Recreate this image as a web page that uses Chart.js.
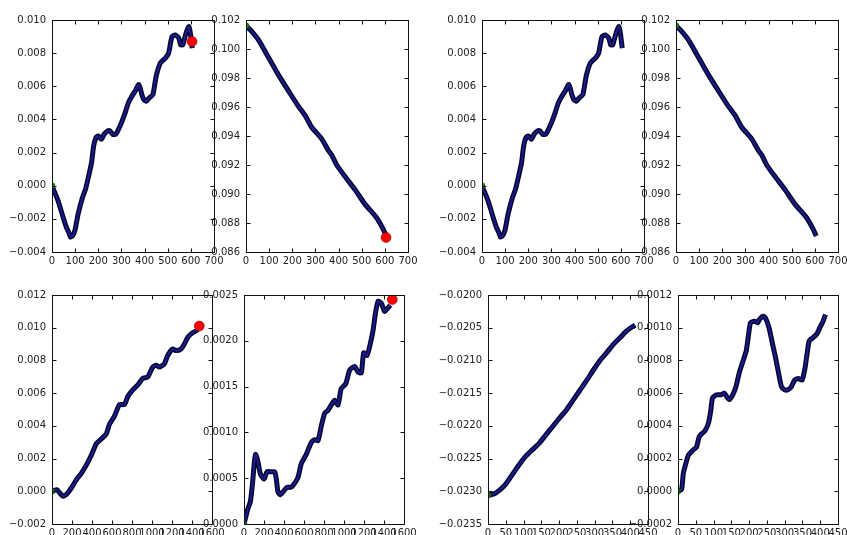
<!DOCTYPE html>
<html>
<head>
<meta charset="utf-8">
<script src="https://cdn.jsdelivr.net/npm/chart.js@4.4.1/dist/chart.umd.min.js"></script>
<style>
  body { margin: 0; background: #fff; }
  #wrap { position: relative; width: 847px; height: 535px; overflow: hidden; }
  #wrap canvas { position: absolute; }
</style>
</head>
<body>
<div id="wrap"></div>
<script>
// run A: wandering error (top row, columns 1 and 3)
const runAx = [0, 26, 48, 62, 72, 80, 90, 99, 113, 132, 145, 157, 171, 180, 190, 200, 214, 225, 240, 251, 262, 275,
  294, 316, 330, 345, 359, 374, 381, 388, 397, 408, 420, 436, 450, 468, 490, 504, 512, 519, 533, 548, 556, 565,
  575, 584, 592, 598, 606];
const runAy = [0.0000, -0.0009, -0.0019, -0.0025, -0.0028, -0.0031, -0.0030, -0.0027, -0.0017, -0.0007, -0.0002,
  0.0005, 0.0014, 0.0024, 0.0029, 0.0030, 0.0028, 0.0031, 0.0033, 0.0033, 0.0031, 0.0031, 0.0036, 0.0044, 0.0050,
  0.0054, 0.0057, 0.0061, 0.0059, 0.0055, 0.0052, 0.0051, 0.0053, 0.0055, 0.0066, 0.0074, 0.0077, 0.0080, 0.0086,
  0.0090, 0.0091, 0.0089, 0.0085, 0.0085, 0.0090, 0.0094, 0.0096, 0.0092, 0.0083];
const runAEnd = [605, 0.0087];

// run A: steady decay (top row, columns 2 and 4)
const dropAx = [0, 20, 55, 98, 141, 184, 220, 256, 284, 327, 356, 370, 392, 428, 471, 514, 563, 592, 606];
const dropAy = [0.1016, 0.1013, 0.1006, 0.0994, 0.0982, 0.0971, 0.0962, 0.0954, 0.0946, 0.0938, 0.0930, 0.0927,
  0.0920, 0.0912, 0.0903, 0.0893, 0.0884, 0.0876, 0.0871];
const dropAEnd = [605, 0.0870];

// run B (bottom row, columns 1 and 2)
const runBx = [0, 50, 77, 110, 143, 193, 243, 293, 343, 393, 442, 492, 542, 575, 625, 675, 725, 758, 808, 858,
  908, 958, 1008, 1041, 1074, 1124, 1157, 1207, 1241, 1291, 1324, 1357, 1407, 1440, 1457];
const runBy = [0.0000, 0.0001, -0.0001, -0.0003, -0.0002, 0.0002, 0.0007, 0.0011, 0.0016, 0.0022, 0.0029, 0.0032,
  0.0035, 0.0041, 0.0046, 0.0053, 0.0053, 0.0058, 0.0062, 0.0065, 0.0069, 0.0070, 0.0076, 0.0077, 0.0076, 0.0078,
  0.0083, 0.0087, 0.0086, 0.0087, 0.0090, 0.0094, 0.0097, 0.0098, 0.0099];
const runBEnd = [1473, 0.0101];

const riseBx = [0, 40, 63, 83, 107, 117, 140, 163, 200, 230, 273, 307, 323, 340, 363, 397, 430, 463, 490, 540,
  573, 623, 673, 707, 740, 773, 807, 840, 873, 907, 940, 973, 1017, 1057, 1107, 1140, 1173, 1197, 1230, 1257, 1290,
  1313, 1340, 1373, 1407, 1440, 1463];
const riseBy = [0.00000, 0.00017, 0.00024, 0.00042, 0.00071, 0.00076, 0.00068, 0.00055, 0.00049, 0.00057, 0.00057,
  0.00057, 0.00049, 0.00035, 0.00032, 0.00036, 0.00040, 0.00040, 0.00042, 0.00051, 0.00066, 0.00076, 0.00089,
  0.00092, 0.00091, 0.00107, 0.00121, 0.00124, 0.00130, 0.00135, 0.00130, 0.00148, 0.00153, 0.00168, 0.00172,
  0.00166, 0.00165, 0.00187, 0.00184, 0.00194, 0.00211, 0.00229, 0.00243, 0.00241, 0.00232, 0.00236, 0.00239];
const riseBEnd = [1483, 0.00245];

// run C (bottom row, columns 3 and 4)
const slopeCx = [0, 17, 31, 50, 69, 88, 107, 126, 145, 164, 182, 201, 220, 239, 258, 277, 296, 315, 334, 353,
  372, 390, 405, 414];
const slopeCy = [-0.02306, -0.02304, -0.02299, -0.02289, -0.02274, -0.02259, -0.02246, -0.02236, -0.02226,
  -0.02213, -0.02201, -0.02188, -0.02176, -0.02161, -0.02146, -0.02131, -0.02115, -0.02100, -0.02088, -0.02075,
  -0.02065, -0.02055, -0.02049, -0.02046];

const waveCx = [0, 10, 15, 22, 29, 41, 52, 59, 66, 76, 86, 92, 97, 108, 121, 130, 137, 144, 154, 163, 173, 182,
  192, 198, 204, 215, 224, 229, 239, 246, 256, 265, 275, 284, 291, 300, 309, 319, 328, 338, 349, 357, 363, 369,
  380, 390, 399, 408, 415];
const waveCy = [0.00000, 0.00001, 0.00011, 0.00017, 0.00022, 0.00025, 0.00027, 0.00033, 0.00035, 0.00037, 0.00042,
  0.00049, 0.00057, 0.00059, 0.00059, 0.00060, 0.00058, 0.00056, 0.00059, 0.00064, 0.00073, 0.00079, 0.00086,
  0.00095, 0.00103, 0.00104, 0.00103, 0.00105, 0.00107, 0.00106, 0.00100, 0.00091, 0.00081, 0.00071, 0.00064,
  0.00062, 0.00062, 0.00064, 0.00068, 0.00069, 0.00068, 0.00075, 0.00084, 0.00092, 0.00094, 0.00096, 0.00100,
  0.00104, 0.00108];

// tick values
const xTicks700 = [0, 100, 200, 300, 400, 500, 600, 700];
const xTicks1600 = [0, 200, 400, 600, 800, 1000, 1200, 1400, 1600];
const xTicks450 = [0, 50, 100, 150, 200, 250, 300, 350, 400, 450];
const yTicksRunA = [-0.004, -0.002, 0, 0.002, 0.004, 0.006, 0.008, 0.010];
const yTicksDropA = [0.086, 0.088, 0.090, 0.092, 0.094, 0.096, 0.098, 0.100, 0.102];
const yTicksRunB = [-0.002, 0, 0.002, 0.004, 0.006, 0.008, 0.010, 0.012];
const yTicksRiseB = [0, 0.0005, 0.0010, 0.0015, 0.0020, 0.0025];
const yTicksSlopeC = [-0.0235, -0.0230, -0.0225, -0.0220, -0.0215, -0.0210, -0.0205, -0.0200];
const yTicksWaveC = [-0.0002, 0, 0.0002, 0.0004, 0.0006, 0.0008, 0.0010, 0.0012];

const wrap = document.getElementById('wrap');
const FONT = { family: 'DejaVu Sans', size: 10 };

function fmt(v, dec) {
  if (Math.abs(v) < 1e-12) v = 0;
  return v.toFixed(dec).replace('-', '\u2212');
}

// box round the plot plus inward ticks on all four sides
const framePlugin = {
  id: 'frame',
  afterDatasetsDraw(chart) {
    const { ctx, chartArea: a, scales: { x, y } } = chart;
    const L = Math.round(a.left) + 0.5, R = Math.round(a.right) + 0.5;
    const T = Math.round(a.top) + 0.5, B = Math.round(a.bottom) + 0.5;
    ctx.save();
    ctx.strokeStyle = '#111';
    ctx.lineWidth = 1;
    ctx.beginPath();
    x.ticks.forEach(t => {
      const px = Math.round(x.getPixelForValue(t.value)) + 0.5;
      ctx.moveTo(px, B); ctx.lineTo(px, B - 4);
      ctx.moveTo(px, T); ctx.lineTo(px, T + 4);
    });
    y.ticks.forEach(t => {
      const py = Math.round(y.getPixelForValue(t.value)) + 0.5;
      ctx.moveTo(L, py); ctx.lineTo(L + 4, py);
      ctx.moveTo(R, py); ctx.lineTo(R - 4, py);
    });
    ctx.stroke();
    ctx.strokeRect(L, T, R - L, B - T);
    ctx.restore();
  }
};

function makePanel(p) {
  const AXIS_W = 64, AXIS_H = 22, PAD_T = 8, PAD_R = 18;
  const canvas = document.createElement('canvas');
  canvas.width = AXIS_W + p.w + PAD_R;
  canvas.height = PAD_T + p.h + AXIS_H;
  canvas.style.left = (p.left - AXIS_W) + 'px';
  canvas.style.top = (p.top - PAD_T) + 'px';
  wrap.appendChild(canvas);

  const pts = p.xs.map((x, i) => ({ x, y: p.ys[i] }));
  const datasets = [
    { data: pts, borderColor: '#08082e', borderWidth: 5, pointRadius: 0, tension: 0.2, order: 3 },
    { data: pts, borderColor: '#1c1c98', borderWidth: 1.8, pointRadius: 0, tension: 0.2, order: 2 },
    // start marker sits over the line
    { data: [pts[0]], showLine: false, pointRadius: 3, pointBackgroundColor: '#0b8a0b',
      pointBorderColor: '#063806', pointBorderWidth: 0.5, order: 1 }
  ];
  if (p.end) {
    datasets.push({ data: [{ x: p.end[0], y: p.end[1] }], showLine: false, pointRadius: 5,
      pointBackgroundColor: '#ff0000', pointBorderColor: '#5a0000', pointBorderWidth: 0.5, order: 0 });
  }

  new Chart(canvas, {
    type: 'line',
    data: { datasets },
    options: {
      responsive: false,
      animation: false,
      devicePixelRatio: 1,
      layout: { padding: { top: PAD_T, right: PAD_R, left: 0, bottom: 0 } },
      plugins: { legend: { display: false }, tooltip: { enabled: false } },
      scales: {
        x: {
          type: 'linear', min: p.xTicks[0], max: p.xTicks[p.xTicks.length - 1],
          afterFit: s => { s.height = AXIS_H; },
          afterBuildTicks: s => { s.ticks = p.xTicks.map(v => ({ value: v })); },
          grid: { display: false, drawTicks: false },
          border: { display: false },
          ticks: { autoSkip: false, maxRotation: 0, minRotation: 0, padding: 3, color: '#222',
            font: FONT, callback: v => fmt(v, 0) }
        },
        y: {
          type: 'linear', min: p.yTicks[0], max: p.yTicks[p.yTicks.length - 1],
          afterFit: s => { s.width = AXIS_W; },
          afterBuildTicks: s => { s.ticks = p.yTicks.map(v => ({ value: v })); },
          grid: { display: false, drawTicks: false },
          border: { display: false },
          ticks: { autoSkip: false, padding: 6, color: '#222', font: FONT, callback: v => fmt(v, p.yDec) }
        }
      }
    },
    plugins: [framePlugin]
  });
}

const panels = [
  { xs: runAx, ys: runAy, end: runAEnd, xTicks: xTicks700, yTicks: yTicksRunA, yDec: 3, left: 52, top: 16, w: 162, h: 236 },
  { xs: dropAx, ys: dropAy, end: dropAEnd, xTicks: xTicks700, yTicks: yTicksDropA, yDec: 3, left: 246, top: 16, w: 162, h: 236 },
  { xs: runAx, ys: runAy, xTicks: xTicks700, yTicks: yTicksRunA, yDec: 3, left: 482, top: 16, w: 162, h: 236 },
  { xs: dropAx, ys: dropAy, xTicks: xTicks700, yTicks: yTicksDropA, yDec: 3, left: 676, top: 16, w: 162, h: 236 },
  { xs: runBx, ys: runBy, end: runBEnd, xTicks: xTicks1600, yTicks: yTicksRunB, yDec: 3, left: 52, top: 291, w: 160, h: 233 },
  { xs: riseBx, ys: riseBy, end: riseBEnd, xTicks: xTicks1600, yTicks: yTicksRiseB, yDec: 4, left: 244, top: 291, w: 160, h: 233 },
  { xs: slopeCx, ys: slopeCy, xTicks: xTicks450, yTicks: yTicksSlopeC, yDec: 4, left: 488, top: 291, w: 160, h: 233 },
  { xs: waveCx, ys: waveCy, xTicks: xTicks450, yTicks: yTicksWaveC, yDec: 4, left: 678, top: 291, w: 160, h: 233 }
];

panels.forEach(makePanel);
</script>
</body>
</html>
